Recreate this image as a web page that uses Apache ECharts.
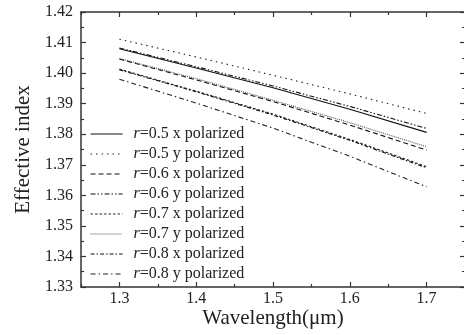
<!DOCTYPE html>
<html>
<head>
<meta charset="utf-8">
<script src="https://cdn.jsdelivr.net/npm/echarts@6/dist/echarts.min.js"></script>
<style>html,body{margin:0;padding:0;background:#fff;}#c{width:464px;height:335px;}</style>
</head>
<body>
<div id="c"></div>
<script>
var wavelength = [1.3, 1.4, 1.5, 1.6, 1.7];
var xTickLabels = [1.3, 1.4, 1.5, 1.6, 1.7];
var seriesNames = ['r=0.5 x polarized','r=0.5 y polarized','r=0.6 x polarized','r=0.6 y polarized','r=0.7 x polarized','r=0.7 y polarized','r=0.8 x polarized','r=0.8 y polarized'];
var r05x = [1.4080, 1.4017, 1.3952, 1.3882, 1.3806];
var r05y = [1.4111, 1.4053, 1.3993, 1.3932, 1.3868];
var r06x = [1.4046, 1.3978, 1.3907, 1.3830, 1.3748];
var r06y = [1.4082, 1.4021, 1.3958, 1.3891, 1.3819];
var r07x = [1.4013, 1.3941, 1.3866, 1.3783, 1.3694];
var r07y = [1.4048, 1.3982, 1.3911, 1.3838, 1.3759];
var r08x = [1.4011, 1.3939, 1.3863, 1.3780, 1.3690];
var r08y = [1.3980, 1.3902, 1.3820, 1.3728, 1.3628];
var allValues = [r05x, r05y, r06x, r06y, r07x, r07y, r08x, r08y];
var dashes = ['solid', [1.5,4], [5,3], [5,2,1.5,2,1.5,2], [2.5,2], [1,1], [4,2,1.5,2], [5,3,1.5,3]];
var colors = ['#111','#222','#111','#111','#222','#555','#111','#222'];

var chart = echarts.init(document.getElementById('c'));
var font = 'Liberation Serif, Times New Roman, serif';
function axisStyle(){
  return {
    axisLine: {show: true, onZero: false, lineStyle: {color: '#333', width: 1.5}},
    splitLine: {show: false}
  };
}
var yTicks = {
  axisTick: {show: true, inside: true, length: 5, lineStyle: {color: '#333', width: 1.2}},
  minorTick: {show: true, splitNumber: 2, length: 3, lineStyle: {color: '#333', width: 1.2}}
};
// x: interval ticks fall on the half-steps (short), minor ticks on the labelled steps (long)
var xTicks = {
  axisTick: {show: true, inside: true, length: 3, lineStyle: {color: '#333', width: 1.2}},
  minorTick: {show: true, splitNumber: 2, length: 5, lineStyle: {color: '#333', width: 1.2}}
};
var series = seriesNames.map(function(n, i){
  return {
    name: n, type: 'line', symbol: 'none', silent: true,
    data: wavelength.map(function(w, j){ return [w, allValues[i][j]]; }),
    lineStyle: {color: colors[i], width: 1.1, type: dashes[i]},
    itemStyle: {color: colors[i]}
  };
});
chart.setOption({
  animation: false,
  backgroundColor: '#fff',
  grid: {left: 81, right: -1, top: 12, bottom: 48, containLabel: false, outerBoundsMode: 'none'},
  legend: {
    orient: 'vertical', left: 90, top: 124, padding: 0,
    itemWidth: 32, itemHeight: 14, itemGap: 0,
    selectedMode: false,
    itemStyle: {opacity: 0},
    lineStyle: {width: 1.1},
    formatter: function(n){ return '{i|r}' + n.slice(1); },
    textStyle: {fontFamily: font, fontSize: 16, lineHeight: 20, color: '#222', padding: [0,0,0,6],
      rich: {i: {fontFamily: font, fontStyle: 'italic', fontSize: 16, lineHeight: 20, color: '#222'}}},
    data: seriesNames
  },
  xAxis: [
    Object.assign({type: 'value', min: 1.25, max: 1.75, interval: 0.1, position: 'bottom',
      name: 'Wavelength(\u03bcm)', nameLocation: 'middle', nameGap: 21, nameMoveOverlap: false,
      nameTextStyle: {fontFamily: font, fontSize: 21, color: '#222'},
      axisLabel: {fontFamily: font, fontSize: 16, color: '#222', margin: 4,
        customValues: xTickLabels,
        formatter: function(v){ return v.toFixed(1); }}
    }, axisStyle(), xTicks),
    Object.assign({type: 'value', min: 1.25, max: 1.75, interval: 0.1, position: 'top',
      axisLabel: {show: false}}, axisStyle(), xTicks)
  ],
  yAxis: [
    Object.assign({type: 'value', min: 1.33, max: 1.42, interval: 0.01, position: 'left',
      name: 'Effective index', nameLocation: 'middle', nameGap: 42,
      nameTextStyle: {fontFamily: font, fontSize: 21, color: '#222'},
      axisLabel: {fontFamily: font, fontSize: 16, color: '#222', margin: 8,
        formatter: function(v){ return v.toFixed(2); }}
    }, axisStyle(), yTicks),
    Object.assign({type: 'value', min: 1.33, max: 1.42, interval: 0.01, position: 'right',
      axisLabel: {show: false}}, axisStyle(), yTicks)
  ],
  series: series
});
</script>
</body>
</html>
